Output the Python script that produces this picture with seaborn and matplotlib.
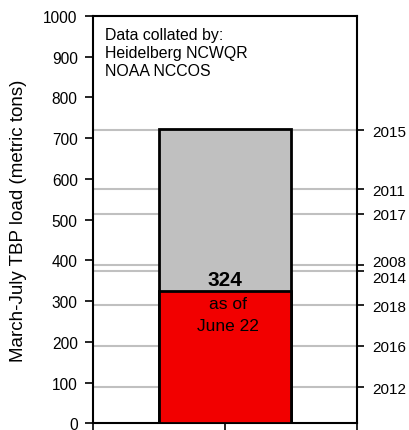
"""Carga TBP marzo-julio: barra acumulada vs. años anteriores."""

import matplotlib
matplotlib.use("Agg")
import matplotlib.pyplot as plt
import matplotlib.transforms as mtransforms
import seaborn as sns
import pandas as pd

# Datos
categoria = ["2019"]
carga_total = [722]       # barra gris
carga_actual = [324]      # barra roja, "as of June 22"
anios = ["2015", "2011", "2017", "2008", "2014", "2018", "2016", "2012"]
cargas_anios = [720, 575, 515, 389, 373, 290, 191, 88]
ticks_y = [0, 100, 200, 300, 400, 500, 600, 700, 800, 900, 1000]

sns.set_style("white")
plt.rcParams["font.family"] = ["Liberation Sans", "DejaVu Sans"]
plt.rcParams["text.color"] = "black"
plt.rcParams["axes.labelcolor"] = "black"

df = pd.DataFrame({"serie": categoria, "total": carga_total, "actual": carga_actual})

fig = plt.figure(figsize=(4.09, 4.31), dpi=100)
ax = fig.add_axes([0.2274, 0.0155, 0.6455, 0.9451])

# Líneas de referencia de otros años (detrás de la barra)
for v in cargas_anios:
    ax.axhline(v, color="#c0c0c0", linewidth=1.5, zorder=0.5)

sns.barplot(data=df, x="serie", y="total", color="#c0c0c0", saturation=1,
            width=1.0, edgecolor="black", linewidth=2, ax=ax, zorder=2)
sns.barplot(data=df, x="serie", y="actual", color="#f20000", saturation=1,
            width=1.0, edgecolor="black", linewidth=2, ax=ax, zorder=3)

ax.set_xlim(-1, 1)
ax.set_ylim(0, 1000)
ax.set_xticks([-1, 0, 1], ["", "", ""])
ax.set_yticks(ticks_y, [str(t) for t in ticks_y])
ax.set_xlabel("")
ax.set_ylabel("March-July TBP load (metric tons)", fontsize=13.5, color="black")
ax.yaxis.set_label_coords(-0.25, 0.5)
ax.tick_params(axis="y", left=True, direction="out", length=6, width=1.2,
               pad=5, labelsize=11.2, colors="black")
ax.tick_params(axis="x", bottom=True, direction="out", length=6, width=1.2,
               colors="black")
for s in ax.spines.values():
    s.set_visible(True)
    s.set_color("black")
    s.set_linewidth(1.5)

# Etiquetas de la barra
ax.annotate(str(carga_actual[0]), xy=(0, carga_actual[0]), xytext=(0, 2),
            textcoords="offset points", ha="center", va="bottom",
            fontsize=15, fontweight="bold", color="black", zorder=5)
ax.annotate("as of\nJune 22", xy=(0, carga_actual[0]), xytext=(2, -3.5),
            textcoords="offset points", ha="center", va="top",
            fontsize=12.5, linespacing=1.55, color="black", zorder=5)

ax.text(0.045, 0.972, "Data collated by:\nHeidelberg NCWQR\nNOAA NCCOS",
        transform=ax.transAxes, ha="left", va="top", fontsize=11.4,
        linespacing=1.25, color="black")

# Eje derecho con los años
ax2 = ax.twinx()
ax2.set_ylim(0, 1000)
ax2.set_yticks(cargas_anios, anios)
ax2.tick_params(axis="y", right=True, direction="out", length=5, width=1.2,
                pad=6, labelsize=11, colors="black")
for s in ax2.spines.values():
    s.set_visible(False)
ax2.grid(False)

desplaz = {"2008": 3.5, "2014": -3.5}
for lab in ax2.get_yticklabels():
    dy = desplaz.get(lab.get_text(), 0)
    if dy:
        off = mtransforms.ScaledTranslation(0, dy / 72, fig.dpi_scale_trans)
        lab.set_transform(lab.get_transform() + off)

fig.savefig("out.png", dpi=100)
